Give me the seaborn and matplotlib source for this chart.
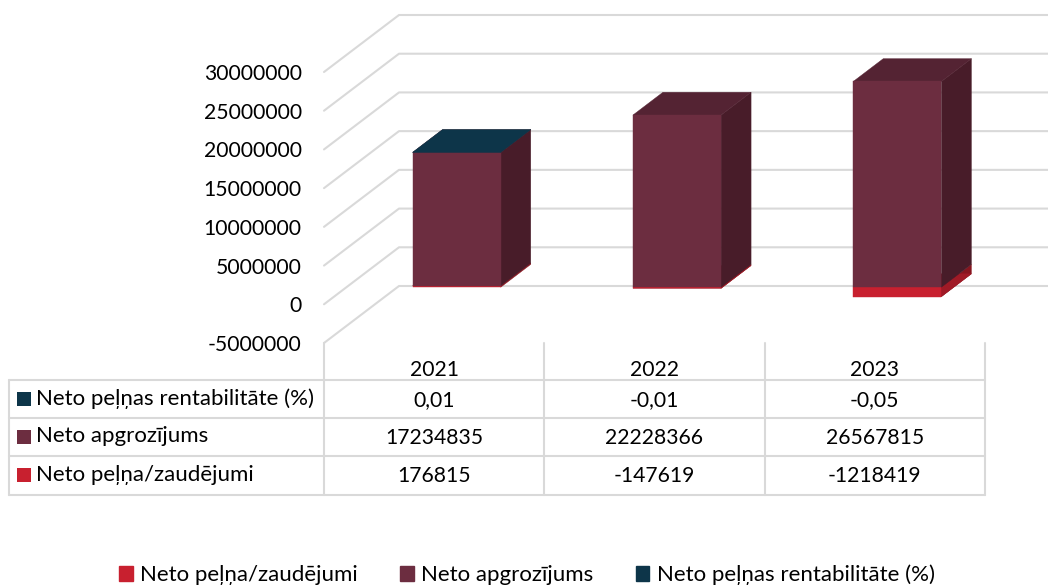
import matplotlib
matplotlib.use("Agg")
import matplotlib.pyplot as plt
import seaborn as sns
from matplotlib.lines import Line2D
from matplotlib.patches import Polygon, Rectangle, Patch
from matplotlib.transforms import IdentityTransform, blended_transform_factory

years = ["2021", "2022", "2023"]
profit = [176815, -147619, -1218419]
turnover = [17234835, 22228366, 26567815]
margin = [0.01, -0.01, -0.05]
yticks = [-5000000, 0, 5000000, 10000000, 15000000, 20000000, 25000000, 30000000]

name_profit = "Neto peļņa/zaudējumi"
name_turnover = "Neto apgrozījums"
name_margin = "Neto peļņas rentabilitāte (%)"

red, red_side, red_top = "#C8202F", "#87151F", "#A01A26"
maroon, maroon_side, maroon_top = "#6C2D40", "#481C29", "#542333"
teal = "#0D3549"
grid_col = "#D9D9D9"

W, H = 1048, 588
sns.set_theme(style="white")
plt.rcParams["font.family"] = ["Lato", "DejaVu Sans"]

fig = plt.figure(figsize=(W / 100, H / 100), dpi=100)
# plot area = front edge of the floor, in pixels
left, right, top, bottom = 324, 985, 72, 343
ax = fig.add_axes([left / W, 1 - bottom / H, (right - left) / W, (bottom - top) / H])
ax.patch.set_alpha(0)

# stacked like excel: positives go up from 0, negatives go down
sns.barplot(x=years, y=profit, color=red, width=0.4, saturation=1, ax=ax, linewidth=0)
turn_base = [max(p, 0) for p in profit]
sns.barplot(x=years, y=turnover, bottom=turn_base, color=maroon, width=0.4, saturation=1, ax=ax, linewidth=0)
ax.set_xlim(-0.5, 2.5)
ax.set_ylim(yticks[0], yticks[-1])
ax.set_yticks(yticks)
ax.set_yticklabels([str(v) for v in yticks], fontsize=15.2, color="black")
ax.tick_params(axis="y", length=0, pad=16)
ax.tick_params(axis="x", length=0, pad=12, labelsize=15.2, labelcolor="black")
ax.set_xlabel("")
ax.set_ylabel("")
for s in ax.spines.values():
    s.set_visible(False)

fig.canvas.draw()
px = IdentityTransform()
depth_x, depth_y = 75, 57   # whole floor depth
bar_front = 22.5 / 75       # bars sit this far back
bar_depth = 30 / 75         # and are this deep


def proj(x, y, d):
    # data point pushed back by d (0 front, 1 back wall) in pixels
    a, b = ax.transData.transform((x, y))
    return a + d * depth_x, b + d * depth_y


# back wall and floor gridlines
for v in yticks:
    pts = [proj(-0.5, v, 0), proj(-0.5, v, 1), proj(3, v, 1)]
    ax.add_line(Line2D([p[0] for p in pts], [p[1] for p in pts], color=grid_col, lw=1.5,
                       transform=px, clip_on=False, zorder=1))


def box(x0, x1, y0, y1, front, side, topc):
    d0, d1 = bar_front, bar_front + bar_depth
    faces = [
        ([proj(x1, y0, d0), proj(x1, y0, d1), proj(x1, y1, d1), proj(x1, y1, d0)], side),
        ([proj(x0, y1, d0), proj(x1, y1, d0), proj(x1, y1, d1), proj(x0, y1, d1)], topc),
        ([proj(x0, y0, d0), proj(x1, y0, d0), proj(x1, y1, d0), proj(x0, y1, d0)], front),
    ]
    for pts, c in faces:
        ax.add_patch(Polygon(pts, closed=True, fc=c, ec=c, lw=0.3, transform=px, clip_on=False, zorder=3))


# seaborn bars give the x span and values, faces are projected from those
bars = list(ax.patches)
spans = [(b.get_x(), b.get_x() + b.get_width()) for b in bars[:3]]
for b in bars:
    b.set_visible(False)

for i, (x0, x1) in enumerate(spans):
    box(x0, x1, 0, profit[i], red, red_side, red_top)
    box(x0, x1, turn_base[i], turn_base[i] + turnover[i], maroon, maroon_side, maroon_top)
    if margin[i] > 0:
        t = turn_base[i] + turnover[i] + margin[i]
        box(x0, x1, t, t, teal, maroon_side, teal)


# data table
def fx(x):
    return x / W


def fy(y):
    return 1 - y / H


row_y = [380, 418, 456, 494.5]
table_left = 8.5
for y in row_y:
    fig.add_artist(Line2D([fx(table_left), fx(right)], [fy(y), fy(y)], color=grid_col, lw=1.5))
fig.add_artist(Line2D([fx(table_left), fx(table_left)], [fy(row_y[0]), fy(row_y[-1])], color=grid_col, lw=1.5))
for k in range(4):
    x = left + k * (right - left) / 3
    fig.add_artist(Line2D([fx(x), fx(x)], [fy(bottom), fy(row_y[-1])], color=grid_col, lw=1.5))

rows = [
    (name_margin, teal, [f"{v:.2f}".replace(".", ",") for v in margin]),
    (name_turnover, maroon, [str(v) for v in turnover]),
    (name_profit, red, [str(v) for v in profit]),
]
blend = blended_transform_factory(ax.transData, fig.transFigure)
for r, (name, col, vals) in enumerate(rows):
    cy = (row_y[r] + row_y[r + 1]) / 2
    fig.add_artist(Rectangle((fx(17), fy(cy + 7)), 14 / W, 14 / H, fc=col, ec="none", transform=fig.transFigure))
    fig.text(fx(36), fy(cy - 0.5), name, fontsize=16, color="black", va="center", ha="left")
    for i, s in enumerate(vals):
        ax.text(i, fy(cy + 1), s, transform=blend, fontsize=15.2, color="black", ha="center", va="center", clip_on=False)

# legend at the bottom
handles = [Patch(color=red, label=name_profit), Patch(color=maroon, label=name_turnover), Patch(color=teal, label=name_margin)]
fig.legend(handles=handles, ncol=3, loc="center", bbox_to_anchor=(fx(527), fy(575)), frameon=False,
           fontsize=16, labelcolor="black", handlelength=0.62, handleheight=0.62, handletextpad=0.32,
           columnspacing=1.9, borderpad=0, borderaxespad=0)

fig.savefig("out.png", dpi=100, facecolor="white")
